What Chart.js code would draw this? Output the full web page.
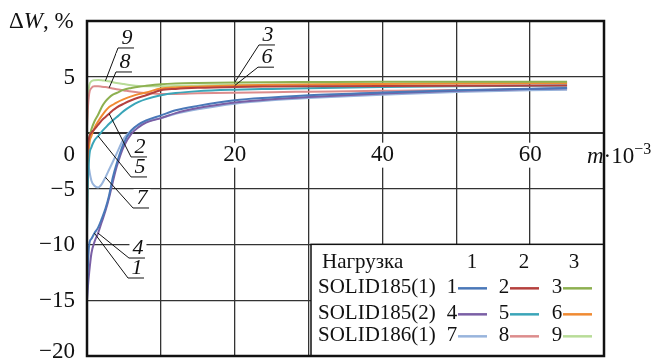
<!DOCTYPE html>
<html lang="ru">
<head>
<meta charset="utf-8">
<script src="https://cdn.jsdelivr.net/npm/chart.js@4"></script>
<style>
  body { margin: 0; background: #fff; }
  #contenedor { width: 651px; height: 363px; position: relative; }
</style>
</head>
<body>
<div id="contenedor"><canvas id="grafica"></canvas></div>
<script>
// Valores de m·10^-3 (comunes a todas las curvas)
const valoresM = [0, 0.1, 0.3, 0.6, 1, 1.5, 2, 2.5, 3, 3.5, 4, 5, 6, 7, 8, 10, 12, 15, 20, 25, 30, 40, 50, 65];

// ΔW, % para cada curva
const curva1 = [-15, -12.5, -10, -9.5, -9.0, -8.5, -7.7, -6.8, -5.6, -4.0, -2.8, -0.9, 0.2, 0.75, 1.1, 1.55, 2.0, 2.4, 2.9, 3.15, 3.35, 3.6, 3.8, 4.0];
const curva2 = [-3, -1.5, -0.4, 0.0, 0.3, 0.7, 1.1, 1.4, 1.7, 2.0, 2.25, 2.6, 2.9, 3.15, 3.35, 3.8, 3.92, 4.02, 4.1, 4.13, 4.15, 4.18, 4.2, 4.22];
const curva3 = [-3, -1.5, -0.5, 0.3, 1.0, 1.6, 2.3, 2.8, 3.15, 3.4, 3.55, 3.85, 4.0, 4.12, 4.2, 4.33, 4.4, 4.45, 4.5, 4.52, 4.53, 4.55, 4.55, 4.55];
const curva4 = [-15, -14, -12.5, -10.8, -9.8, -9.0, -8.0, -7.0, -5.8, -4.4, -3.1, -1.2, -0.1, 0.5, 0.9, 1.3, 1.75, 2.2, 2.7, 3.0, 3.2, 3.5, 3.75, 3.98];
const curva5 = [-9, -5, -2.2, -1.3, -0.7, -0.3, 0.1, 0.45, 0.8, 1.1, 1.38, 1.95, 2.4, 2.75, 3.0, 3.35, 3.55, 3.72, 3.85, 3.92, 3.98, 4.08, 4.15, 4.22];
const curva6 = [-8, -4, -1.2, -0.3, 0.4, 1.0, 1.5, 1.95, 2.3, 2.5, 2.7, 3.0, 3.25, 3.45, 3.6, 3.95, 4.05, 4.12, 4.22, 4.28, 4.32, 4.36, 4.4, 4.42];
const curva7 = [-1.2, -2.2, -3.3, -4.3, -4.75, -4.9, -4.6, -4.0, -3.3, -2.6, -1.9, -0.5, 0.2, 0.7, 1.0, 1.3, 1.7, 2.1, 2.6, 2.9, 3.1, 3.4, 3.65, 3.85];
const curva8 = [0.5, 2.0, 3.5, 4.0, 4.15, 4.15, 4.12, 4.08, 4.02, 3.95, 3.88, 3.78, 3.68, 3.6, 3.55, 3.47, 3.47, 3.52, 3.58, 3.63, 3.67, 3.75, 3.82, 3.88];
const curva9 = [1.0, 2.5, 4.2, 4.6, 4.7, 4.72, 4.7, 4.65, 4.6, 4.52, 4.45, 4.35, 4.25, 4.18, 4.15, 4.15, 4.18, 4.22, 4.28, 4.3, 4.33, 4.38, 4.42, 4.45];

const curvas = [curva1, curva2, curva3, curva4, curva5, curva6, curva7, curva8, curva9];
const coloresCurvas = ['#4a78b8', '#b5403d', '#8db050', '#7a5fa5', '#3aa5b8', '#f08a32', '#98b4dc', '#dc8c8c', '#b8dc98'];

// Etiquetas de los ejes
const ticksY = [-20, -15, -10, -5, 5];
const ticksX = [0, 20, 40, 60];

// Leyenda
const filasLeyenda = ['SOLID185(1)', 'SOLID185(2)', 'SOLID186(1)'];
const columnasLeyenda = ['1', '2', '3'];

// Números de curva con líneas guía: posición del texto (unidades de datos) y punto de la curva
const etiquetasCurvas = [
    { texto: '9', x: 5.42, y: 8.48, curva: 9, indice: 7 },
    { texto: '8', x: 5.14, y: 6.33, curva: 8, indice: 8 },
    { texto: '3', x: 24.5, y: 8.75, curva: 3, indice: 18 },
    { texto: '6', x: 24.37, y: 6.76, curva: 6, indice: 18 },
    { texto: '2', x: 7.18, y: -1.28, curva: 2, indice: 8 },
    { texto: '5', x: 7.18, y: -3.07, curva: 5, indice: 5 },
    { texto: '7', x: 7.45, y: -5.85, curva: 7, indice: 7 },
    { texto: '4', x: 6.9, y: -10.33, curva: 4, indice: 5 },
    { texto: '1', x: 6.77, y: -12.12, curva: 1, indice: 4 },
];

const SERIF = '"Liberation Serif", "DejaVu Serif", serif';

function formatoNumero(v) {
    return v < 0 ? '\u2212' + Math.abs(v) : String(v);
}

// Dibuja textos, marco, leyenda y etiquetas
const pluginTextos = {
    id: 'textos',
    afterDraw(chart) {
        const ctx = chart.ctx;
        const area = chart.chartArea;
        const x = chart.scales.x;
        const y = chart.scales.y;
        ctx.save();
        ctx.fillStyle = '#111';
        ctx.strokeStyle = '#111';

        // Etiquetas del eje Y
        ctx.font = '23px ' + SERIF;
        ctx.textAlign = 'right';
        ctx.textBaseline = 'middle';
        ticksY.forEach(v => ctx.fillText(formatoNumero(v), area.left - 12, Math.min(y.getPixelForValue(v) + 1, 352)));

        // Etiquetas del eje X (sobre la línea de cero)
        const yEtiquetaX = y.getPixelForValue(0) + 22;
        ticksX.forEach(v => {
            const texto = formatoNumero(v);
            if (v === 0) {
                ctx.textAlign = 'right';
                ctx.fillText(texto, area.left - 12, yEtiquetaX);
                return;
            }
            const px = x.getPixelForValue(v);
            const ancho = ctx.measureText(texto).width;
            ctx.fillStyle = '#fff';
            ctx.fillRect(px - ancho / 2 - 2, yEtiquetaX - 12, ancho + 4, 25);
            ctx.fillStyle = '#111';
            ctx.textAlign = 'center';
            ctx.fillText(texto, px, yEtiquetaX);
        });

        // Título del eje X: m·10^-3
        ctx.textAlign = 'left';
        ctx.textBaseline = 'alphabetic';
        let cx = area.right - 17;
        const base = yEtiquetaX + 8;
        ctx.font = 'italic 23px ' + SERIF;
        ctx.fillText('m', cx, base);
        cx += ctx.measureText('m').width;
        ctx.font = '23px ' + SERIF;
        ctx.fillText('\u00b710', cx, base);
        cx += ctx.measureText('\u00b710').width;
        ctx.font = '16px ' + SERIF;
        ctx.fillText('\u22123', cx, base - 9);

        // Título del eje Y: ΔW, %
        cx = 9;
        ctx.font = '23px ' + SERIF;
        ctx.fillText('\u0394', cx, 28);
        cx += ctx.measureText('\u0394').width;
        ctx.font = 'italic 23px ' + SERIF;
        ctx.fillText('W', cx, 28);
        cx += ctx.measureText('W').width;
        ctx.font = '23px ' + SERIF;
        ctx.fillText(', %', cx, 28);

        // Etiquetas de las curvas con líneas guía
        ctx.font = 'italic 22px ' + SERIF;
        ctx.lineWidth = 1;
        etiquetasCurvas.forEach(e => {
            const tx = x.getPixelForValue(e.x);
            const ty = y.getPixelForValue(e.y);
            const px = x.getPixelForValue(valoresM[e.indice]);
            const py = y.getPixelForValue(curvas[e.curva - 1][e.indice]);
            const ancho = ctx.measureText(e.texto).width;
            ctx.fillStyle = '#fff';
            ctx.fillRect(tx - ancho / 2 - 3, ty - 9, ancho + 6, 17);
            ctx.fillStyle = '#111';
            ctx.textAlign = 'center';
            ctx.textBaseline = 'middle';
            ctx.fillText(e.texto, tx, ty);
            ctx.beginPath();
            ctx.moveTo(tx + 7, ty + 10);
            ctx.lineTo(tx - 9, ty + 10);
            ctx.lineTo(px, py);
            ctx.stroke();
        });

        // Leyenda
        const izq = 311;
        const arriba = y.getPixelForValue(-10);
        ctx.fillStyle = '#fff';
        ctx.fillRect(izq, arriba, area.right - izq, area.bottom - arriba);
        ctx.lineWidth = 1.5;
        ctx.strokeRect(izq, arriba, area.right - izq, area.bottom - arriba);
        ctx.fillStyle = '#111';
        ctx.font = '21px ' + SERIF;
        ctx.textBaseline = 'middle';
        ctx.textAlign = 'left';
        ctx.fillText('Нагрузка', izq + 11, arriba + 18);
        const colTexto = [141, 193, 246];
        const colCabecera = [161, 213, 263];
        const filaY = [43, 69, 91];
        ctx.textAlign = 'center';
        columnasLeyenda.forEach((c, i) => ctx.fillText(c, izq + colCabecera[i], arriba + 18));
        filasLeyenda.forEach((f, r) => {
            ctx.textAlign = 'left';
            ctx.fillStyle = '#111';
            ctx.fillText(f, izq + 7, arriba + filaY[r]);
            columnasLeyenda.forEach((c, i) => {
                const n = r * 3 + i;
                ctx.textAlign = 'center';
                ctx.fillStyle = '#111';
                ctx.fillText(String(n + 1), izq + colTexto[i], arriba + filaY[r]);
                ctx.strokeStyle = coloresCurvas[n];
                ctx.lineWidth = 2.5;
                ctx.beginPath();
                ctx.moveTo(izq + colTexto[i] + 6, arriba + filaY[r] + 1);
                ctx.lineTo(izq + colTexto[i] + 35, arriba + filaY[r] + 1);
                ctx.stroke();
            });
        });

        // Marco del área de la gráfica
        ctx.strokeStyle = '#111';
        ctx.lineWidth = 2.5;
        ctx.strokeRect(area.left, area.top, area.right - area.left, area.bottom - area.top);
        ctx.restore();
    }
};

const conjuntos = curvas.map((valores, i) => ({
    label: String(i + 1),
    data: valoresM.map((m, j) => ({ x: m, y: valores[j] })),
    borderColor: coloresCurvas[i],
    backgroundColor: coloresCurvas[i],
    borderWidth: 2,
    pointRadius: 0,
    fill: false,
    cubicInterpolationMode: 'monotone',
}));

const anchoLinea = ctx => (ctx.tick && ctx.tick.value === 0 ? 2 : 1.3);

new Chart(document.getElementById('grafica'), {
    type: 'line',
    data: { datasets: conjuntos },
    options: {
        responsive: true,
        maintainAspectRatio: false,
        animation: false,
        layout: { padding: { left: 87, top: 21, right: 47, bottom: 7 } },
        plugins: { legend: { display: false }, tooltip: { enabled: false } },
        scales: {
            x: {
                type: 'linear',
                min: 0,
                max: 70,
                ticks: { display: false, stepSize: 10 },
                grid: { color: '#333', lineWidth: anchoLinea, drawTicks: false },
                border: { display: false },
                afterFit: s => { s.height = 0; },
            },
            y: {
                min: -20,
                max: 10,
                ticks: { display: false, stepSize: 5 },
                grid: { color: '#333', lineWidth: anchoLinea, drawTicks: false },
                border: { display: false },
                afterFit: s => { s.width = 0; },
            },
        },
    },
    plugins: [pluginTextos],
});
</script>
</body>
</html>
